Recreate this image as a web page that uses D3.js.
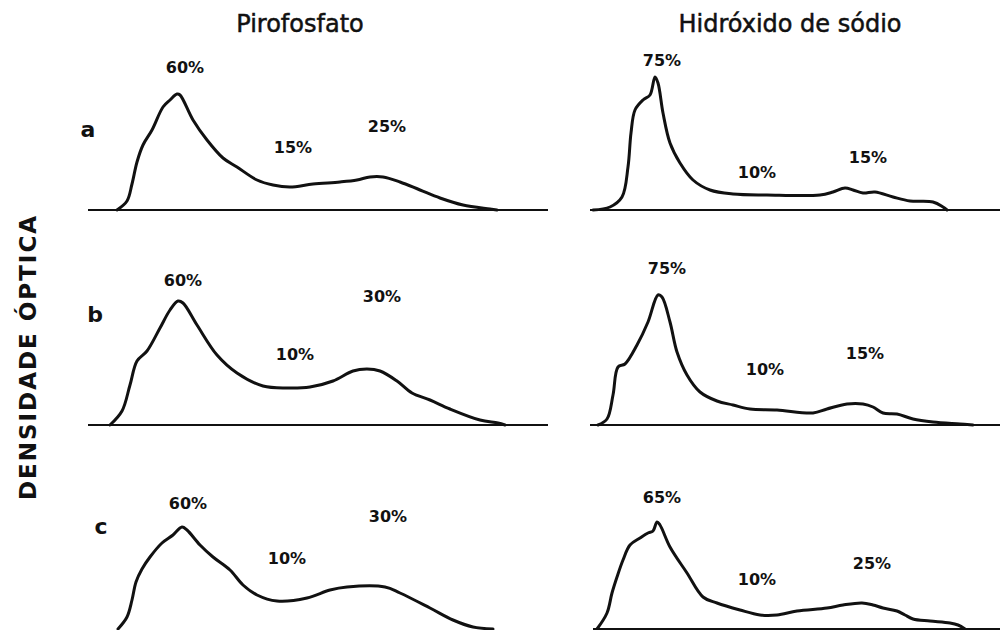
<!DOCTYPE html>
<meta charset="utf-8">
<html>
<head>
  <title>Densidade óptica - Pirofosfato / Hidróxido de sódio</title>
  <script src="https://cdn.jsdelivr.net/npm/d3@7"></script>
  <style>
    body { margin: 0; background: #fff; }
    svg { display: block; }
    text { font-family: "DejaVu Sans", sans-serif; fill: #111; }
    .trace { fill: none; stroke: #111; stroke-width: 3px; stroke-linejoin: round; stroke-linecap: round; }
    .base { stroke: #111; stroke-width: 2px; }
    .title { font-size: 24px; stroke: #111; stroke-width: 0.5px; }
    .pct { font-size: 16px; font-weight: 600; }
    .row { font-size: 22px; font-weight: bold; }
    .ytitle { font-size: 23px; font-weight: bold; letter-spacing: 2px; }
  </style>
</head>
<body>
  <svg id="svg" width="1000" height="630"></svg>

  <script>
    // column titles and row letters
    var columns = ["Pirofosfato", "Hidróxido de sódio"];
    var rows = ["a", "b", "c"];
    var yTitle = "DENSIDADE ÓPTICA";

    // densitometer traces: [distance (cm), optical density]
    var pyroA = [[2.9, 0], [3.9, 0.9], [4.4, 2.6], [4.9, 4.8], [5.5, 6.5], [6.4, 8.0], [7.5, 10.3],
      [8.2, 11.0], [8.9, 11.6], [9.2, 11.5], [10.5, 9.0], [11.9, 7.0], [13.5, 5.2], [14.9, 4.3],
      [16.9, 3.0], [18.5, 2.5], [20.2, 2.3], [22.5, 2.6], [25.2, 2.8], [26.9, 3.0], [28.2, 3.3],
      [29.5, 3.3], [31.2, 2.8], [33.2, 2.0], [35.2, 1.2], [37.5, 0.5], [40.2, 0.1], [40.9, 0]];
    var pyroB = [[2.2, 0], [3.4, 1.4], [4.2, 4.0], [4.9, 6.4], [5.9, 7.4], [7.2, 9.7], [8.2, 11.5],
      [9.0, 12.4], [9.5, 12.2], [10.9, 10.0], [12.9, 7.0], [14.9, 5.2], [17.5, 3.9], [19.9, 3.7],
      [22.2, 3.8], [24.5, 4.4], [26.5, 5.4], [27.9, 5.6], [29.2, 5.4], [30.9, 4.4], [32.4, 3.2],
      [34.2, 2.5], [36.2, 1.6], [39.2, 0.5], [41.0, 0.2], [41.7, 0]];
    var pyroC = [[3.0, 0], [3.9, 1.2], [4.4, 2.9], [4.8, 4.7], [5.4, 6.0], [6.2, 7.2], [7.4, 8.6],
      [8.5, 9.4], [9.4, 10.2], [9.9, 9.9], [11.2, 8.4], [12.5, 7.2], [14.2, 5.9], [15.5, 4.4],
      [16.9, 3.4], [18.9, 2.8], [21.9, 3.1], [24.2, 3.9], [25.9, 4.2], [29.7, 4.2], [31.2, 3.6],
      [34.2, 2.1], [36.5, 0.9], [38.5, 0.2], [40.5, 0]];
    var naohA = [[0.3, 0], [2.0, 0.3], [3.2, 1.3], [3.8, 4.3], [4.1, 7.7], [4.5, 10.0], [5.3, 11.0],
      [6.0, 11.5], [6.5, 13.3], [6.8, 12.7], [7.3, 9.7], [8.0, 6.7], [9.0, 4.7], [10.3, 3.0],
      [12.0, 2.0], [14.3, 1.6], [17.7, 1.5], [23.0, 1.5], [24.3, 1.8], [25.5, 2.2], [26.3, 2.0],
      [27.3, 1.7], [28.5, 1.8], [30.3, 1.3], [32.0, 0.9], [34.3, 0.8], [35.3, 0.3], [35.7, 0]];
    var naohB = [[0.8, 0], [1.7, 0.6], [2.3, 3.0], [2.8, 5.8], [3.5, 6.1], [4.7, 8.0], [5.8, 10.3],
      [6.8, 13.0], [7.2, 12.8], [8.0, 10.3], [8.7, 7.3], [9.7, 5.0], [11.0, 3.3], [12.7, 2.4],
      [14.3, 2.0], [16.0, 1.6], [18.7, 1.5], [22.3, 1.2], [23.7, 1.6], [25.7, 2.1], [27.3, 2.1],
      [28.3, 1.8], [29.3, 1.2], [30.7, 1.1], [32.3, 0.6], [34.3, 0.3], [37.0, 0.1], [38.3, 0]];
    var naohC = [[0.7, 0], [1.7, 1.6], [2.2, 3.6], [2.7, 5.2], [3.3, 6.9], [4.0, 8.4], [5.0, 9.1],
      [5.8, 9.6], [6.3, 9.8], [6.7, 10.7], [7.0, 10.4], [8.0, 8.2], [9.7, 5.6], [11.3, 3.2],
      [12.7, 2.6], [15.0, 1.9], [17.0, 1.4], [18.7, 1.4], [20.7, 1.8], [23.7, 2.1], [25.3, 2.4],
      [27.2, 2.6], [28.3, 2.4], [29.3, 2.1], [30.7, 1.8], [31.5, 1.4], [32.3, 1.0], [34.0, 0.8],
      [36.0, 0.6], [36.8, 0.4], [37.5, 0]];

    // fraction labels: [distance, density, text]
    var pyroLabelsA = [[9.7, 14.3, "60%"], [20.5, 6.3, "15%"], [29.9, 8.4, "25%"]];
    var pyroLabelsB = [[9.5, 14.5, "60%"], [20.7, 7.1, "10%"], [29.4, 12.9, "30%"]];
    var pyroLabelsC = [[10.0, 12.6, "60%"], [19.9, 7.1, "10%"], [30.0, 11.3, "30%"]];
    var naohLabelsA = [[7.2, 15.0, "75%"], [16.7, 3.8, "10%"], [27.8, 5.3, "15%"]];
    var naohLabelsB = [[7.7, 15.7, "75%"], [17.5, 5.6, "10%"], [27.5, 7.2, "15%"]];
    var naohLabelsC = [[7.2, 13.2, "65%"], [16.7, 5.0, "10%"], [28.2, 6.6, "25%"]];

    // baseline extent per panel (null = not visible in the figure)
    var baseExtent = [[[0, 46], [0, 46]], [[0, 46], [0, 46]], [null, [0.3, 46]]];

    var traces = [[pyroA, naohA], [pyroB, naohB], [pyroC, naohC]];
    var labels = [[pyroLabelsA, naohLabelsA], [pyroLabelsB, naohLabelsB], [pyroLabelsC, naohLabelsC]];

    var svg = d3.select("#svg");

    var colX = [88, 590];
    var rowBase = [210, 425, 629];

    var xScales = colX.map(function (x0) {
      return d3.scaleLinear().domain([0, 46]).range([x0, x0 + 460]);
    });
    var yScales = rowBase.map(function (b) {
      return d3.scaleLinear().domain([0, 10]).range([b, b - 100]);
    });

    // column titles
    svg.selectAll(".title")
      .data(columns)
      .enter()
      .append("text")
      .attr("class", "title")
      .attr("x", function (d, i) { return i === 0 ? 300 : 790; })
      .attr("y", 32)
      .attr("text-anchor", "middle")
      .text(function (d) { return d; });

    // row letters
    svg.selectAll(".row")
      .data(rows)
      .enter()
      .append("text")
      .attr("class", "row")
      .attr("x", function (d, i) { return [88, 95, 101][i]; })
      .attr("y", function (d, i) { return [137, 322, 534][i]; })
      .attr("text-anchor", "middle")
      .text(function (d) { return d; });

    // vertical title
    svg.append("text")
      .attr("class", "ytitle")
      .attr("transform", "translate(36, 357) rotate(-90)")
      .attr("text-anchor", "middle")
      .text(yTitle);

    var line = d3.line()
      .curve(d3.curveCatmullRom.alpha(0.5));

    rows.forEach(function (r, ri) {
      columns.forEach(function (c, ci) {
        var x = xScales[ci], y = yScales[ri];
        var g = svg.append("g");

        var ext = baseExtent[ri][ci];
        if (ext) {
          g.append("line")
            .attr("class", "base")
            .attr("x1", x(ext[0]))
            .attr("x2", x(ext[1]))
            .attr("y1", y(0))
            .attr("y2", y(0));
        }

        g.append("path")
          .datum(traces[ri][ci])
          .attr("class", "trace")
          .attr("d", line.x(function (d) { return x(d[0]); }).y(function (d) { return y(d[1]); }));

        g.selectAll(".pct")
          .data(labels[ri][ci])
          .enter()
          .append("text")
          .attr("class", "pct")
          .attr("x", function (d) { return x(d[0]); })
          .attr("y", function (d) { return y(d[1]); })
          .attr("dy", "0.35em")
          .attr("text-anchor", "middle")
          .text(function (d) { return d[2]; });
      });
    });
  </script>
</body>
</html>
